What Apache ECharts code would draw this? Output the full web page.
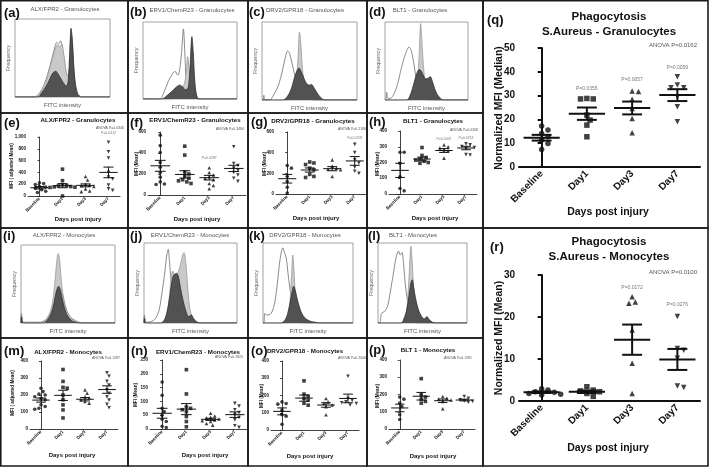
<!DOCTYPE html>
<html>
<head>
<meta charset="utf-8">
<script src="https://cdn.jsdelivr.net/npm/echarts@6/dist/echarts.min.js"></script>
<style>
  html, body { margin: 0; padding: 0; background: #fff; }
  #main { width: 709px; height: 467px; }
</style>
</head>
<body>
<div id="main"></div>
<script>
const cats = ['Baseline', 'Day1', 'Day3', 'Day7'];

// flow histograms: [FITC %, frequency %] inside each plot box
// open = control outline, light = light grey fill, dark = dark grey fill
const aOpen = [[0,0],[20,0],[25,4],[30,14],[35,32],[39,50],[42,64],[44,70],[46,68],[48,72],[50,62],[52,45],[54,30],[56,27],[58,48],[59.5,80],[61,55],[63,22],[66,5],[70,0],[100,0]];
const aLight = [[0,0],[22,0],[27,5],[32,16],[36,34],[40,52],[43,64],[45,67],[47,64],[49,68],[51,58],[53,40],[55,27],[57,32],[59,58],[61,42],[63,15],[66,3],[70,0],[100,0]];
const aDark = [[0,0],[24,0],[28,5],[33,14],[37,24],[40,31],[43,33],[45,30],[48,24],[51,18],[54,14],[56,20],[57.5,55],[59,88],[60.5,70],[62,35],[64,12],[66,3],[70,0],[100,0]];

const bOpen = [[0,0],[18,0],[22,8],[27,23],[31,32],[34,36],[37,31],[39,38],[41,60],[43,91],[44.5,60],[46,25],[48,15],[50,8],[54,2],[60,0],[100,0]];
const bLight = [[0,0],[30,0],[35,5],[40,12],[44,20],[46,35],[47.5,55],[49,40],[51,20],[54,6],[58,0],[100,0]];
const bDark = [[0,0],[20,0],[25,4],[30,9],[35,15],[39,18],[42,16],[45,12],[48,14],[50,40],[52,81],[53.5,60],[55,25],[57,5],[60,0],[100,0]];

const cOpen = [[0,0],[1,0],[2,6],[3,0],[8,0],[12,6],[17,18],[21,35],[24,52],[27,63],[29,60],[32,45],[36,25],[40,12],[44,5],[50,1],[56,0],[100,0]];
const cLight = [[0,0],[28,0],[32,6],[35,16],[37.5,45],[39.5,87],[41,70],[43,35],[46,18],[49,8],[52,2],[56,0],[100,0]];
const cDark = [[0,0],[22,0],[27,5],[31,15],[34,28],[37,38],[39,41],[41,37],[44,28],[47,21],[50,19],[52,20],[55,15],[58,9],[62,3],[66,0],[100,0]];

const dOpen = [[0,0],[1,0],[2,10],[3.5,2],[6,2],[10,6],[15,20],[20,42],[25,60],[29,68],[32,62],[35,45],[38,25],[41,12],[44,5],[48,1],[52,0],[100,0]];
const dLight = [[0,0],[32,0],[36,6],[39,22],[41,55],[43,98],[45,65],[47,35],[50,15],[53,6],[56,1],[60,0],[100,0]];
const dDark = [[0,0],[26,0],[31,8],[35,22],[38,33],[41,39],[43,38],[46,32],[49,27],[52,28],[54.5,30],[57,24],[60,14],[63,7],[67,2],[70,0],[100,0]];

const iOpen = [[0,0],[0.5,12],[1.5,3],[3,1],[20,1],[26,4],[30,10],[34,22],[37,40],[39,52],[41,53],[43,45],[46,28],[49,15],[53,7],[58,3],[62,1],[66,0],[100,0]];
const iLight = [[0,0],[0.5,10],[1.5,2],[3,0],[22,0],[27,5],[31,14],[34,30],[36,52],[38,78],[39.5,89],[41,82],[42.5,60],[45,32],[48,16],[52,7],[57,3],[62,0],[100,0]];
const iDark = [[0,0],[0.5,8],[1.5,1],[3,0],[24,0],[28,4],[32,12],[35,25],[37.5,40],[40,47],[42,42],[44,30],[47,16],[50,8],[54,3],[58,1],[62,0],[100,0]];

const jOpen = [[0,0],[0.5,10],[1.5,2],[4,1],[8,2],[12,5],[16,15],[19,35],[22,60],[24.5,85],[26,92],[27.5,75],[29,55],[31,45],[34,38],[37,25],[40,15],[44,8],[48,3],[54,0],[100,0]];
const jLight = [[0,0],[0.5,8],[1.5,1],[4,0],[20,0],[24,8],[27,30],[29,55],[31,65],[33,60],[36,62],[39,72],[41.5,85],[43,88],[45,75],[47,45],[49,20],[52,7],[56,2],[60,0],[100,0]];
const jDark = [[0,0],[0.5,6],[1.5,0],[18,0],[22,4],[25,15],[28,35],[30,52],[32,60],[35,62],[37,58],[39,45],[42,28],[45,15],[48,8],[51,10],[53,6],[56,2],[60,0],[100,0]];

const kOpen = [[0,0],[1,0],[2,12],[4,10],[8,11],[10,14],[13,25],[16,50],[19,80],[22,94],[24,88],[26,80],[28,60],[31,35],[34,18],[38,6],[42,1],[46,0],[100,0]];
const kLight = [[0,0],[26,0],[28.5,10],[30.5,35],[32,65],[33,85],[34.5,65],[36,35],[38,18],[41,8],[45,3],[50,0],[100,0]];
const kDark = [[0,0],[20,0],[24,3],[27,10],[30,25],[32.5,40],[34,46],[36,40],[38,30],[41,18],[44,10],[48,5],[53,2],[58,1],[62,0],[100,0]];

const lOpen = [[0,0],[2,0],[4,12],[8,15],[11,22],[14,40],[17,60],[20,80],[23,90],[25,85],[27,88],[29,70],[31,45],[34,22],[37,8],[40,2],[44,0],[100,0]];
const lLight = [[0,0],[28,0],[31,8],[33,25],[35,60],[37,96],[38.5,75],[40,45],[42,22],[45,10],[49,4],[54,1],[58,0],[100,0]];
const lDark = [[0,0],[26,0],[29,5],[32,15],[35,35],[37,50],[38.5,54],[40,45],[42,32],[45,18],[48,10],[52,5],[55,8],[57,5],[61,1],[65,0],[100,0]];

// dot plots: one list per day (Baseline, Day1, Day3, Day7), plus mean and SEM
const ePts = [[225,210,195,160,150,130,105,80,60],[455,260,190,175,170,160,155,150,145,0],[330,270,200,185,175,160,120,85,75],[910,750,645,400,320,290,185,120,95]];
const eMean = [140, 175, 180, 400];
const eSem = [20, 35, 25, 90];

const fPts = [[570,470,405,310,265,215,170,125,105,100],[465,380,220,200,180,160,145,135,125,110],[260,215,190,175,160,145,110,90,60],[460,300,280,255,235,215,190,160,130]];
const fMean = [278, 196, 165, 253];
const fSem = [52, 35, 22, 30];

const gPts = [[275,250,170,120,65,10],[310,300,285,250,235,190,170,160],[330,270,250,240,235,170],[480,400,330,300,260,220,200]];
const gMean = [148, 232, 245, 320];
const gSem = [42, 20, 20, 42];

const hPts = [[265,265,195,110,35,20],[295,245,232,222,215,208,200,195],[312,300,292,282,275,228],[318,312,302,295,290,250,248]];
const hMean = [150, 222, 276, 292];
const hSem = [45, 12, 12, 11];

const mPts = [[240,220,205,200,190,180,172,142,132,122,116],[350,280,245,240,200,172,142,112,65],[230,210,190,182,172,162,152],[330,310,280,258,230,210,190,170,145,125]];
const mMean = [170, 198, 175, 232];
const mSem = [12, 30, 10, 22];

const nPts = [[170,122,75,63,50,35,27,10,5],[215,127,80,75,70,63,45,27,8],[57,47,42,40,36,33,30,27,20,14],[93,83,70,60,52,42,33,12,6]];
const nMean = [57, 72, 35, 52];
const nSem = [18, 20, 4, 10];

const oPts = [[163,154,150,115,88,80,33],[285,208,196,183,173,155,144],[183,163,155,145,135,88],[312,183,172,163,158,154,145]];
const oMean = [108, 185, 145, 183];
const oSem = [20, 18, 13, 25];

const pPts = [[185,173,150,130,83,55],[292,198,185,173,160,150],[188,178,173,168,160,117],[188,178,170,163,160,155]];
const pMean = [122, 190, 164, 168];
const pSem = [22, 22, 10, 5];

const qPts = [[17.2,15.5,14.1,12.7,11.3,9.9,7.4],[28.8,28.6,28.6,21.8,19.7,17.6,12.7],[31.9,31.7,28.5,24.6,20.4,14.4],[37.9,34.5,33.3,33.3,29.5,25.3,19.0]];
const qMean = [12.3, 22.4, 24.8, 30.2];
const qSem = [1.2, 2.6, 2.7, 2.5];

const rPts = [[2.9,2.6,2.2,2.1,1.8,1.6,1.4],[3.4,2.6,2.4,2.2,1.8,1.1],[24.8,23.6,23.3,16.9,9.0,1.8],[20.1,12.5,12.1,10.2,3.6,3.2]];
const rMean = [2.1, 2.2, 14.6, 9.9];
const rSem = [0.2, 0.3, 3.6, 2.5];

const FONT = '"Liberation Sans", Arial, sans-serif';
const grid = [], xAxis = [], yAxis = [], series = [], graphic = [];

function addText(x, y, text, size, o) {
    o = o || {};
    graphic.push({
        type: 'text', x: x, y: y, rotation: o.rot || 0, silent: true, z: 100,
        style: {
            text: text, fill: o.color || '#111',
            font: (o.bold ? 'bold ' : '') + size + 'px ' + FONT,
            textAlign: o.align || 'center', textVerticalAlign: 'middle'
        }
    });
}

function addFrame(x0, y0, x1, y1) {
    graphic.push({
        type: 'rect', silent: true, z: 90,
        shape: { x: x0, y: y0, width: x1 - x0, height: y1 - y0 },
        style: { fill: 'none', stroke: '#1b1b1b', lineWidth: 1.6 }
    });
}

// spread points of one group sideways so symbols do not overlap
function swarm(vals, unitPx, bandPx, d) {
    const placed = [];
    return vals.map(function (v) {
        const y = v * unitPx;
        let dx = 0;
        for (let k = 0; k < 40; k++) {
            const c = (k % 2 ? 1 : -1) * Math.ceil(k / 2) * d * 0.55;
            if (placed.every(function (p) { return (p[0] - c) * (p[0] - c) + (p[1] - y) * (p[1] - y) >= d * d; })) {
                dx = c;
                break;
            }
        }
        placed.push([dx, y]);
        return dx / bandPx;
    });
}

const histPanels = [
    {tag: '(a)', tagAt: [4, 13], title: 'ALX/FPR2 - Granulocytes', titleAt: [65, 9], box: [15, 19, 95, 78], curves: [aOpen, aLight, aDark]},
    {tag: '(b)', tagAt: [130, 12], title: 'ERV1/ChemR23 - Granulocytes', titleAt: [192, 10], box: [143, 22, 94, 77], curves: [bOpen, bLight, bDark]},
    {tag: '(c)', tagAt: [249, 12], title: 'DRV2/GPR18 - Granulocytes', titleAt: [305, 10], box: [262, 22, 95, 78], curves: [cOpen, cLight, cDark]},
    {tag: '(d)', tagAt: [369, 12], title: 'BLT1 - Granulocytes', titleAt: [420, 10], box: [385, 22, 83, 78], curves: [dOpen, dLight, dDark]},
    {tag: '(i)', tagAt: [3, 236], title: 'ALX/FPR2 - Monocytes', titleAt: [64, 235], box: [21, 245, 94, 78], curves: [iOpen, iLight, iDark]},
    {tag: '(j)', tagAt: [130, 236], title: 'ERV1/ChemR23 - Monocytes', titleAt: [190, 235], box: [144, 243, 93, 80], curves: [jOpen, jLight, jDark]},
    {tag: '(k)', tagAt: [249, 236], title: 'DRV2/GPR18 - Monocytes', titleAt: [305, 235], box: [263, 243, 90, 80], curves: [kOpen, kLight, kDark]},
    {tag: '(l)', tagAt: [368, 236], title: 'BLT1 - Monocytes', titleAt: [413, 235], box: [378, 243, 89, 80], curves: [lOpen, lLight, lDark]}
];

const curveStyles = [
    {line: '#6e6e6e', fill: '#ffffff'},
    {line: '#9a9a9a', fill: '#c9c9c9'},
    {line: '#2e2e2e', fill: '#525252'}
];

histPanels.forEach(function (h) {
    const gi = grid.length;
    const l = h.box[0], t = h.box[1], w = h.box[2], hh = h.box[3];
    grid.push({left: l, top: t, width: w, height: hh, show: true, borderColor: '#8c8c8c', borderWidth: 0.8, backgroundColor: '#fff', outerBoundsMode: 'none'});
    xAxis.push({gridIndex: gi, type: 'value', min: 0, max: 100, show: false});
    yAxis.push({gridIndex: gi, type: 'value', min: 0, max: 100, show: false});
    const xi = xAxis.length - 1, yi = yAxis.length - 1;
    h.curves.forEach(function (c, k) {
        series.push({
            type: 'line', xAxisIndex: xi, yAxisIndex: yi, data: c, showSymbol: false, smooth: 0.3,
            silent: true, z: 2 + k,
            lineStyle: {width: 0.8, color: curveStyles[k].line},
            areaStyle: {color: curveStyles[k].fill, opacity: 1}
        });
    });
    addText(h.tagAt[0], h.tagAt[1], h.tag, 13, {bold: true, align: 'left'});
    addText(h.titleAt[0], h.titleAt[1], h.title, 6, {color: '#555'});
    addText(l + w / 2, t + hh + 8, 'FITC intensity', 6, {color: '#555'});
    addText(l - 7, t + hh / 2, 'Frequency', 5.5, {color: '#666', rot: Math.PI / 2});
});

const dotPanels = [
    {tag: '(e)', tagAt: [4, 123], title: 'ALX/FPR2 - Granulocytes', titleAt: [78, 120], yName: 'MFI ( adjusted Mean)', yNameAt: [12, 166],
     anova: 'ANOVA P=0.0346', anovaAt: [124, 128], xNameAt: [78, 219], box: [28, 137, 92, 59], max: 1000, step: 200,
     pts: ePts, mean: eMean, sem: eSem, notes: [[3, 1065, 'P=0.0412']]},
    {tag: '(f)', tagAt: [130, 123], title: 'ERV1/ChemR23 - Granulocytes', titleAt: [195, 120], yName: 'MFI (Mean)', yNameAt: [137, 164],
     anova: 'ANOVA P=0.3484', anovaAt: [244, 129], xNameAt: [197, 219], box: [148, 132, 98, 63], max: 600, step: 200,
     pts: fPts, mean: fMean, sem: fSem, notes: [[2, 352, 'P=0.0287']]},
    {tag: '(g)', tagAt: [251, 122], title: 'DRV2/GPR18 - Granulocytes', titleAt: [313, 121], yName: 'MFI (Mean)', yNameAt: [265, 164],
     anova: 'ANOVA P=0.2180', anovaAt: [366, 129], xNameAt: [316, 218], box: [276, 132, 90, 62], max: 600, step: 200,
     pts: gPts, mean: gMean, sem: gSem, notes: [[3, 542, 'P=0.0259']]},
    {tag: '(h)', tagAt: [369, 122], title: 'BLT1 - Granulocytes', titleAt: [433, 121], yName: 'MFI (Mean)', yNameAt: [378, 164],
     anova: 'ANOVA P=0.0208', anovaAt: [478, 130], xNameAt: [435, 218], box: [389, 131, 88, 63], max: 400, step: 100,
     pts: hPts, mean: hMean, sem: hSem, notes: [[2, 350, 'P=0.0407'], [3, 357, 'P=0.0213']]},
    {tag: '(m)', tagAt: [4, 351], title: 'ALX/FPR2 - Monocytes', titleAt: [68, 352], yName: 'MFI ( adjusted Mean)', yNameAt: [13, 393],
     anova: 'ANOVA P=0.1287', anovaAt: [120, 358], xNameAt: [72, 455], box: [30, 361, 88, 68], max: 400, step: 100,
     pts: mPts, mean: mMean, sem: mSem, notes: []},
    {tag: '(n)', tagAt: [131, 351], title: 'ERV1/ChemR23 - Monocytes', titleAt: [198, 352], yName: 'MFI (Mean)', yNameAt: [136, 395],
     anova: 'ANOVA P=0.1820', anovaAt: [243, 357], xNameAt: [205, 455], box: [150, 360, 97, 69], max: 250, step: 50,
     pts: nPts, mean: nMean, sem: nSem, notes: []},
    {tag: '(o)', tagAt: [251, 351], title: 'DRV2/GPR18 - Monocytes', titleAt: [305, 351], yName: 'MFI (Mean)', yNameAt: [262, 396],
     anova: 'ANOVA P=0.2646', anovaAt: [366, 358], xNameAt: [310, 456], box: [271, 361, 88, 69], max: 400, step: 100,
     pts: oPts, mean: oMean, sem: oSem, notes: []},
    {tag: '(p)', tagAt: [369, 350], title: 'BLT 1 - Monocytes', titleAt: [428, 350], yName: 'MFI (Mean)', yNameAt: [378, 396],
     anova: 'ANOVA P=0.1281', anovaAt: [472, 358], xNameAt: [433, 456], box: [389, 360, 86, 69], max: 400, step: 100,
     pts: pPts, mean: pMean, sem: pSem, notes: []},
    {big: true, tag: '(q)', tagAt: [487, 20], title: ['Phagocytosis', 'S.Aureus - Granulocytes'], titleAt: [609, 17], yName: 'Normalized MFI (Median)', yNameAt: [499, 108],
     anova: 'ANOVA P=0.0162', anovaAt: [697, 45], xNameAt: [608, 212], box: [519, 48, 181, 119], max: 50, step: 10,
     pts: qPts, mean: qMean, sem: qSem, notes: [[1, 32.8, 'P=0.0355'], [2, 36.6, 'P=0.0057'], [3, 41.6, 'P=0.0059']]},
    {big: true, tag: '(r)', tagAt: [490, 247], title: ['Phagocytosis', 'S.Aureus - Monocytes'], titleAt: [609, 242], yName: 'Normalized MFI (Mean)', yNameAt: [499, 338],
     anova: 'ANOVA P=0.0100', anovaAt: [697, 272], xNameAt: [608, 448], box: [519, 275, 181, 126], max: 30, step: 10,
     pts: rPts, mean: rMean, sem: rSem, notes: [[2, 26.9, 'P=0.0172'], [3, 22.9, 'P=0.0276']]}
];

const SYM = [{symbol: 'circle'}, {symbol: 'rect'}, {symbol: 'triangle'}, {symbol: 'triangle', symbolRotate: 180}];

dotPanels.forEach(function (p) {
    const big = !!p.big;
    const gi = grid.length;
    const axW = big ? 2 : 0.8;
    const lw = big ? 2 : 1;
    const size = big ? 5.5 : 3.6;
    grid.push({left: p.box[0], top: p.box[1], width: p.box[2], height: p.box[3], outerBoundsMode: 'none'});
    xAxis.push({
        gridIndex: gi, type: 'category', data: cats,
        axisLine: {lineStyle: {color: '#111', width: axW}},
        axisTick: {alignWithLabel: true, length: big ? 4 : 2, lineStyle: {color: '#111', width: axW}},
        axisLabel: {rotate: 45, fontSize: big ? 10 : 4.5, fontWeight: 'bold', color: '#111', margin: big ? 5 : 2, fontFamily: FONT}
    });
    xAxis.push({gridIndex: gi, type: 'value', min: -0.5, max: 3.5, show: false});
    const xv = xAxis.length - 1;
    yAxis.push({
        gridIndex: gi, type: 'value', min: 0, max: p.max, interval: p.step,
        axisLine: {show: true, lineStyle: {color: '#111', width: axW}},
        axisTick: {show: true, length: big ? 4 : 2, lineStyle: {color: '#111', width: axW}},
        axisLabel: {fontSize: big ? 10 : 4.5, fontWeight: 'bold', color: '#111', margin: big ? 4 : 2, fontFamily: FONT},
        splitLine: {show: false}
    });
    const yi = yAxis.length - 1;

    const data = [];
    p.pts.forEach(function (vals, ci) {
        const offs = swarm(vals, p.box[3] / p.max, p.box[2] / 4, size * 1.05);
        vals.forEach(function (v, j) {
            data.push(Object.assign({value: [ci + offs[j], v]}, SYM[ci]));
        });
    });
    series.push({type: 'scatter', xAxisIndex: xv, yAxisIndex: yi, data: data, symbolSize: size,
        itemStyle: {color: '#111'}, silent: true, clip: false, z: 3});

    series.push({
        type: 'custom', xAxisIndex: xv, yAxisIndex: yi, silent: true, clip: false, z: 4,
        data: p.mean.map(function (m, i) { return [i, m, p.sem[i]]; }),
        encode: {x: 0, y: 1},
        renderItem: function (params, api) {
            const x = api.value(0), m = api.value(1), s = api.value(2);
            const c = api.coord([x, m]), t = api.coord([x, m + s]), b = api.coord([x, m - s]);
            const band = api.size([1, 0])[0];
            const hw = band * 0.4, cw = band * 0.22;
            const st = {stroke: '#111', lineWidth: lw};
            return {type: 'group', children: [
                {type: 'line', shape: {x1: c[0] - hw, y1: c[1], x2: c[0] + hw, y2: c[1]}, style: st},
                {type: 'line', shape: {x1: t[0], y1: t[1], x2: b[0], y2: b[1]}, style: st},
                {type: 'line', shape: {x1: t[0] - cw, y1: t[1], x2: t[0] + cw, y2: t[1]}, style: st},
                {type: 'line', shape: {x1: b[0] - cw, y1: b[1], x2: b[0] + cw, y2: b[1]}, style: st}
            ]};
        }
    });

    if (p.notes.length) {
        series.push({
            type: 'scatter', xAxisIndex: xv, yAxisIndex: yi, symbolSize: 0, silent: true, clip: false, z: 5,
            data: p.notes.map(function (n) { return {value: [n[0], n[1]], name: n[2]}; }),
            label: {show: true, position: 'inside', formatter: '{b}', fontSize: big ? 5 : 3.5, color: '#555', fontFamily: FONT}
        });
    }

    addText(p.tagAt[0], p.tagAt[1], p.tag, 13, {bold: true, align: 'left'});
    if (big) {
        addText(p.titleAt[0], p.titleAt[1], p.title[0], 11.5, {bold: true});
        addText(p.titleAt[0], p.titleAt[1] + 15, p.title[1], 11.5, {bold: true});
        addText(p.yNameAt[0], p.yNameAt[1], p.yName, 10.5, {bold: true, rot: Math.PI / 2});
        addText(p.anovaAt[0], p.anovaAt[1], p.anova, 6, {color: '#555', align: 'right'});
        addText(p.xNameAt[0], p.xNameAt[1], 'Days post injury', 10.5, {bold: true});
    } else {
        addText(p.titleAt[0], p.titleAt[1], p.title, 6.2, {bold: true});
        addText(p.yNameAt[0], p.yNameAt[1], p.yName, 4.6, {bold: true, rot: Math.PI / 2});
        addText(p.anovaAt[0], p.anovaAt[1], p.anova, 3.5, {color: '#555', align: 'right'});
        addText(p.xNameAt[0], p.xNameAt[1], 'Days post injury', 6, {bold: true});
    }
});

// panel frames
const colEdges = [0.8, 128, 248, 367, 483];
const rowEdges = [0.8, 113, 228, 338, 466];
for (let r = 0; r < 4; r++) {
    for (let c = 0; c < 4; c++) {
        addFrame(colEdges[c], rowEdges[r], colEdges[c + 1], rowEdges[r + 1]);
    }
}
addFrame(483, 0.8, 708, 228);
addFrame(483, 228, 708, 466);

const chart = echarts.init(document.getElementById('main'));
chart.setOption({
    animation: false,
    backgroundColor: '#fff',
    grid: grid,
    xAxis: xAxis,
    yAxis: yAxis,
    series: series,
    graphic: graphic
});
</script>
</body>
</html>
